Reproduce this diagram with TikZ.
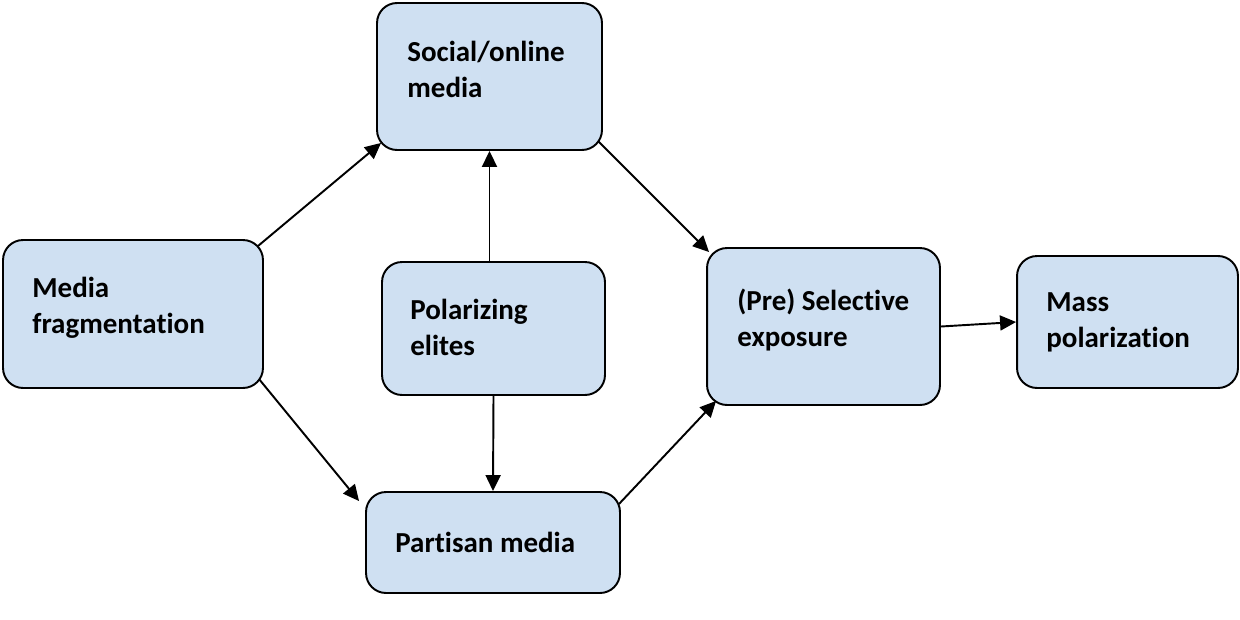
\documentclass[tikz,border=0pt]{standalone}
\usepackage{fontspec}
\setmainfont[Ligatures=NoCommon]{Carlito}
\usetikzlibrary{arrows.meta}
\definecolor{boxblue}{RGB}{207,224,242}

\begin{document}
\begin{tikzpicture}[x=0.02cm,y=-0.02cm,
        box/.style={draw,line width=1.1pt,rounded corners=0.4cm,fill=boxblue,inner sep=0},
        txt/.style={anchor=north west,inner sep=0,align=left,font=\fontsize{16.5pt}{20.5pt}\selectfont\bfseries},
        arr/.style={line width=1.1pt,-{Triangle[length=0.32cm,width=0.3cm]}}]
    \useasboundingbox (0,0) rectangle (1240,619);
    \node[box,minimum width=5.2cm,minimum height=2.96cm] (frag) at (133,314) {};
    \node[box,minimum width=4.5cm,minimum height=2.94cm] (social) at (489.5,76.5) {};
    \node[box,minimum width=4.46cm,minimum height=2.66cm] (elites) at (493.5,328.5) {};
    \node[box,minimum width=5.08cm,minimum height=2.02cm] (partisan) at (493,542.5) {};
    \node[box,minimum width=4.66cm,minimum height=3.14cm] (select) at (823.5,326.5) {};
    \node[box,minimum width=4.42cm,minimum height=2.64cm] (mass) at (1127.5,322) {};
    \node[txt] (fragtxt) at (32,277) {Media\\fragmentation};
    \node[txt] (socialtxt) at (407,41) {Social/online\\media};
    \node[txt] (elitestxt) at (410,299) {Polarizing\\elites};
    \node[txt] (partisantxt) at (395,532) {Partisan media};
    \node[txt] (selecttxt) at (737,289) {(Pre) Selective\\exposure};
    \node[txt] (masstxt) at (1046,292) {Mass\\polarization};
    \draw[arr] ([shift={(-6,7)}]frag.north east) -- ([shift={(5,-8)}]social.south west);
    \draw[arr] ([shift={(-5,-10)}]frag.south east) -- ([shift={(-6,10)}]partisan.north west);
    \draw[arr] (elites.north -| social.south) -- (social.south);
    \draw[arr] (elites.south) -- (partisan.north);
    \draw[arr] ([shift={(-5,-10)}]social.south east) -- ([shift={(3,5)}]select.north west);
    \draw[arr] ([shift={(-2,13)}]partisan.north east) -- ([shift={(10,-5)}]select.south west);
    \draw[arr] (select.east) -- (mass.west);
\end{tikzpicture}
\end{document}
